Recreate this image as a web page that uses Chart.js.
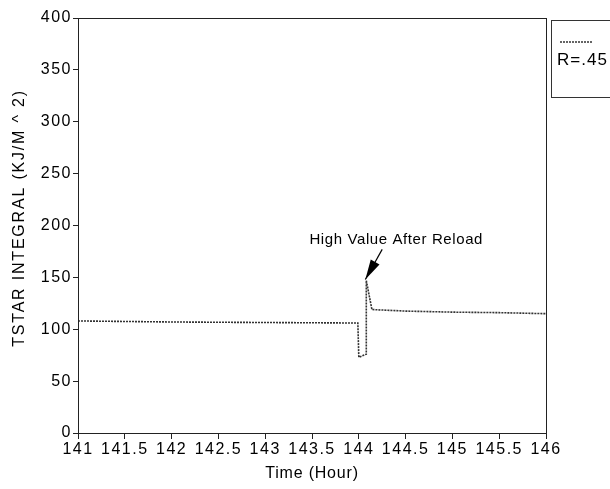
<!DOCTYPE html>
<html><head><meta charset="utf-8">
<script src="https://cdn.jsdelivr.net/npm/chart.js@4/dist/chart.umd.min.js"></script>
<style>html,body{margin:0;padding:0;background:#fff}#wrap{width:610px;height:489px}</style>
</head><body><div id="wrap"><canvas id="c" width="610" height="489"></canvas></div>
<script>
const hours  = [141, 142, 143, 143.99, 144.0, 144.08, 144.08, 144.14, 144.5, 145, 145.5, 146];
const tstar  = [108, 107, 106.5, 106, 73, 76, 147, 119, 117.5, 116.5, 116, 115];
const seriesLabel = "R=.45";
const xTicks = [141,141.5,142,142.5,143,143.5,144,144.5,145,145.5,146];
const yTicks = [0,50,100,150,200,250,300,350,400];
const xTitle = "Time (Hour)";
const yTitle = "TSTAR INTEGRAL (KJ/M ^ 2)";
const noteText = "High Value After Reload";
const noteAt = [144.4, 186];
const arrowFrom = [144.25, 177];
const arrowTo = [144.07, 148];

const FONT = "'Liberation Sans', Arial, sans-serif";

const spacingPlugin = {
  id:'spacing',
  beforeDraw(chart){ try{ chart.ctx.letterSpacing = '1.5px'; }catch(e){} }
};

const framePlugin = {
  id:'frame',
  afterDraw(chart){
    const {ctx, chartArea:a, scales} = chart;
    ctx.save();
    ctx.strokeStyle='#222'; ctx.lineWidth=1;
    ctx.strokeRect(a.left+0.5, a.top+0.5, a.right-a.left, a.bottom-a.top);
    const xs=scales.x, ys=scales.y;
    ctx.fillStyle='#000';
    // axis titles
    try{ ctx.letterSpacing='0.8px'; }catch(e){}
    ctx.font = "16px "+FONT;
    ctx.textAlign='center'; ctx.textBaseline='middle';
    ctx.fillText(xTitle, (a.left+a.right)/2, 474);
    try{ ctx.letterSpacing='1.8px'; }catch(e){}
    ctx.save();
    ctx.translate(20, 218);
    ctx.rotate(-Math.PI/2);
    ctx.fillText(yTitle, 0, 0);
    ctx.restore();
    // annotation
    try{ ctx.letterSpacing='0.6px'; }catch(e){}
    ctx.font = "15px "+FONT;
    ctx.fillText(noteText, xs.getPixelForValue(noteAt[0]), ys.getPixelForValue(noteAt[1]));
    const x0=xs.getPixelForValue(arrowFrom[0]), y0=ys.getPixelForValue(arrowFrom[1]);
    const x1=xs.getPixelForValue(arrowTo[0]), y1=ys.getPixelForValue(arrowTo[1]);
    ctx.strokeStyle='#000'; ctx.lineWidth=1.2;
    ctx.beginPath(); ctx.moveTo(x0,y0); ctx.lineTo(x1,y1); ctx.stroke();
    const ang=Math.atan2(y1-y0,x1-x0), L=20, W=5;
    const bx=x1-L*Math.cos(ang), by=y1-L*Math.sin(ang);
    ctx.beginPath();
    ctx.moveTo(x1,y1);
    ctx.lineTo(bx+W*Math.sin(ang), by-W*Math.cos(ang));
    ctx.lineTo(bx-W*Math.sin(ang), by+W*Math.cos(ang));
    ctx.closePath(); ctx.fill();
    // legend box
    const lx=a.right+5, ly=a.top+2;
    ctx.strokeStyle='#333'; ctx.lineWidth=1;
    ctx.strokeRect(lx+0.5, ly+0.5, 70, 77);
    const ds=chart.data.datasets[0];
    ctx.strokeStyle=ds.borderColor; ctx.lineWidth=1.5;
    ctx.setLineDash(ds.borderDash);
    ctx.beginPath(); ctx.moveTo(lx+9, ly+22); ctx.lineTo(lx+41, ly+22); ctx.stroke();
    ctx.setLineDash([]);
    try{ ctx.letterSpacing='1px'; }catch(e){}
    ctx.fillStyle='#000'; ctx.textAlign='left'; ctx.font="17px "+FONT;
    ctx.fillText(ds.label, lx+6, ly+40);
    ctx.restore();
  }
};

new Chart(document.getElementById('c'), {
  type:'line',
  data:{datasets:[{
    label: seriesLabel,
    data: hours.map((h,i)=>({x:h,y:tstar[i]})),
    borderColor:'#333', borderWidth:1.6, borderDash:[2,1],
    pointRadius:0, tension:0, fill:false
  }]},
  options:{
    responsive:false, animation:false, devicePixelRatio:1,
    layout:{padding:{left:0,right:64,top:18,bottom:0}},
    plugins:{legend:{display:false}, tooltip:{enabled:false}},
    scales:{
      x:{type:'linear', min:141, max:146,
        afterBuildTicks(s){ s.ticks = xTicks.map(v=>({value:v})); },
        afterFit(s){ s.height = 56; },
        grid:{drawOnChartArea:false, drawTicks:true, tickLength:6, color:'#222'},
        border:{color:'#222'},
        ticks:{color:'#000', font:{size:16, family:FONT}, padding:1, maxRotation:0, autoSkip:false,
          callback:v=>String(v)},
        title:{display:false}
      },
      y:{min:0, max:400,
        afterBuildTicks(s){ s.ticks = yTicks.map(v=>({value:v})); },
        afterFit(s){ s.width = 78; },
        grid:{drawOnChartArea:false, drawTicks:true, tickLength:5, color:'#222'},
        border:{color:'#222'},
        ticks:{color:'#000', font:{size:16, family:FONT}, padding:1},
        title:{display:false}
      }
    }
  },
  plugins:[spacingPlugin, framePlugin]
});
</script></body></html>
